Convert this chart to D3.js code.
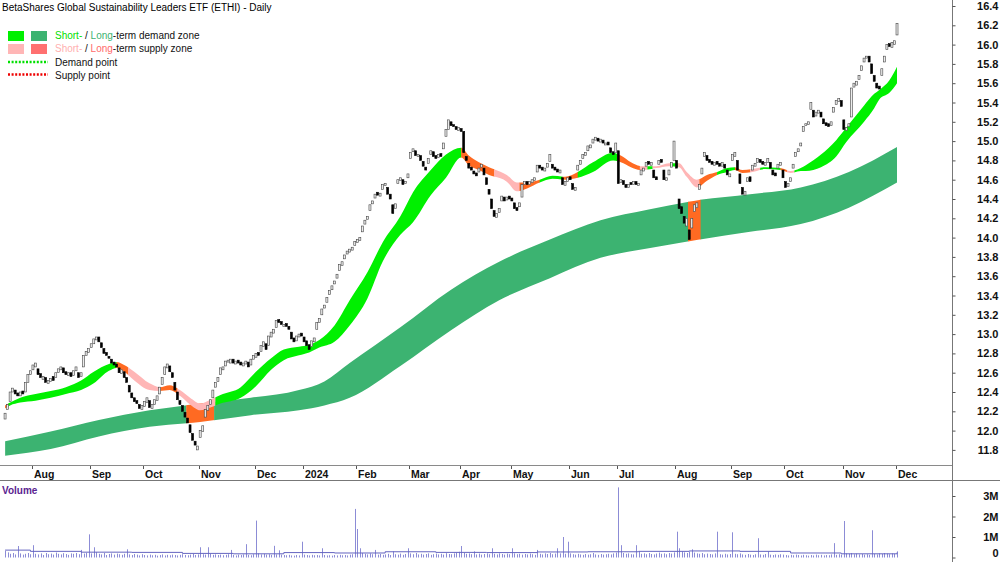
<!DOCTYPE html>
<html>
<head>
<meta charset="utf-8">
<script src="https://cdn.jsdelivr.net/npm/d3@7"></script>
<style>
  body { margin: 0; background: #fff; }
  svg { display: block; font-family: "Liberation Sans", Arial, sans-serif; }
</style>
</head>
<body>
<svg id="chart" width="1000" height="562"></svg>
<script>
// trading calendar (ASX)
const startDate = "2023-07-17";
const endDate = "2024-12-02";
const holidays = ["2023-12-25", "2023-12-26", "2024-01-01", "2024-01-26",
  "2024-03-29", "2024-04-01", "2024-04-25", "2024-06-10"];

// daily closes, month by month
const closes = [
  // Jul 2023
  12.18, 12.27, 12.40, 12.44, 12.38, 12.36, 12.40, 12.38, 12.50, 12.58, 12.62,
  // Aug
  12.68, 12.70, 12.58, 12.55, 12.56, 12.50, 12.52, 12.54, 12.52, 12.60, 12.64, 12.66,
  12.60, 12.58, 12.60, 12.56, 12.62, 12.66, 12.55, 12.60, 12.78, 12.82, 12.85,
  // Sep
  12.90, 12.95, 12.97, 12.92, 12.86, 12.80, 12.78, 12.75, 12.70, 12.68, 12.66, 12.60,
  12.63, 12.55, 12.50, 12.40, 12.34, 12.30, 12.28, 12.23, 12.26,
  // Oct
  12.30, 12.34, 12.24, 12.27, 12.32, 12.36, 12.45, 12.55, 12.66, 12.69, 12.61, 12.55,
  12.42, 12.32, 12.27, 12.20, 12.14, 12.08, 11.98, 11.90, 11.85, 11.84,
  // Nov
  12.00, 12.05, 12.22, 12.26, 12.32, 12.42, 12.50, 12.55, 12.65, 12.66, 12.72, 12.73,
  12.74, 12.70, 12.72, 12.70, 12.68, 12.70, 12.72, 12.66, 12.74, 12.78,
  // Dec
  12.80, 12.78, 12.88, 12.92, 12.84, 12.98, 13.02, 13.05, 13.14, 13.12, 13.10, 13.10,
  13.08, 13.05, 12.95, 12.92, 12.98, 13.00, 12.98,
  // Jan 2024
  12.92, 12.88, 12.84, 12.93, 12.96, 13.12, 13.16, 13.26, 13.30, 13.38, 13.45, 13.50,
  13.55, 13.62, 13.72, 13.75, 13.82, 13.86, 13.88, 13.90, 13.96,
  // Feb
  13.98, 14.00, 14.12, 14.18, 14.22, 14.34, 14.38, 14.45, 14.44, 14.46, 14.55, 14.56,
  14.45, 14.40, 14.25, 14.35, 14.60, 14.62, 14.55, 14.58, 14.66,
  // Mar
  14.88, 14.92, 14.85, 14.86, 14.80, 14.74, 14.70, 14.82, 14.90, 14.84, 14.82, 14.86,
  14.84, 14.98, 15.12, 15.22, 15.16, 15.15, 15.12, 15.14,
  // Apr
  15.10, 14.88, 14.80, 14.72, 14.70, 14.66, 14.64, 14.72, 14.76, 14.65, 14.55, 14.45,
  14.30, 14.22, 14.25, 14.30, 14.43, 14.38, 14.42, 14.40,
  // May
  14.38, 14.30, 14.28, 14.36, 14.55, 14.58, 14.55, 14.58, 14.60, 14.62, 14.75, 14.72,
  14.70, 14.72, 14.77, 14.86, 14.72, 14.70, 14.68, 14.70, 14.55, 14.58, 14.62,
  // Jun
  14.60, 14.50, 14.52, 14.75, 14.80, 14.86, 14.88, 14.95, 14.96, 15.02, 15.04, 15.00,
  15.02, 14.98, 14.98, 14.96, 14.88, 14.86, 14.98,
  // Jul
  14.56, 14.60, 14.55, 14.52, 14.55, 14.55, 14.58, 14.55, 14.56, 14.70, 14.72, 14.78,
  14.76, 14.78, 14.62, 14.60, 14.80, 14.78, 14.60, 14.62, 14.70, 14.78, 15.00,
  // Aug
  14.72, 14.30, 14.25, 14.15, 14.20, 13.98, 14.20, 14.34, 14.36, 14.55, 14.72, 14.88,
  14.80, 14.78, 14.76, 14.78, 14.76, 14.74, 14.78, 14.72, 14.65, 14.66,
  // Sep
  14.86, 14.88, 14.70, 14.56, 14.45, 14.48, 14.62, 14.58, 14.75, 14.77, 14.82, 14.78,
  14.76, 14.78, 14.82, 14.72, 14.65, 14.64, 14.76, 14.78, 14.62,
  // Oct
  14.52, 14.56, 14.62, 14.76, 14.88, 14.92, 14.98, 15.15, 15.18, 15.20, 15.40, 15.25,
  15.30, 15.32, 15.25, 15.18, 15.16, 15.15, 15.20, 15.35, 15.42, 15.44, 15.36,
  // Nov
  15.12, 15.14, 15.18, 15.55, 15.60, 15.62, 15.68, 15.78, 15.86, 15.88, 15.82, 15.70,
  15.62, 15.55, 15.54, 15.75, 15.88, 16.00, 15.98, 16.02, 16.04,
  // Dec
  16.22
];

// daily opens, month by month
const opens = [
  12.12, 12.22, 12.30, 12.40, 12.42, 12.39, 12.36, 12.41, 12.40, 12.50, 12.58,
  12.63, 12.66, 12.64, 12.59, 12.53, 12.55, 12.49, 12.51, 12.56, 12.55, 12.60, 12.63,
  12.65, 12.61, 12.57, 12.60, 12.57, 12.62, 12.60, 12.56, 12.66, 12.78, 12.81,
  12.86, 12.90, 12.94, 12.97, 12.91, 12.85, 12.81, 12.77, 12.74, 12.71, 12.69, 12.65,
  12.59, 12.61, 12.55, 12.47, 12.39, 12.34, 12.31, 12.27, 12.22,
  12.25, 12.29, 12.31, 12.23, 12.27, 12.31, 12.38, 12.48, 12.58, 12.65, 12.67, 12.60,
  12.50, 12.40, 12.31, 12.26, 12.19, 12.13, 12.06, 11.97, 11.89, 11.80,
  11.93, 11.99, 12.14, 12.21, 12.27, 12.34, 12.45, 12.51, 12.58, 12.63, 12.67, 12.71,
  12.70, 12.74, 12.69, 12.73, 12.71, 12.67, 12.69, 12.71, 12.68, 12.74,
  12.76, 12.81, 12.82, 12.87, 12.90, 12.88, 12.97, 13.01, 13.07, 13.15, 13.13, 13.08,
  13.11, 13.08, 13.02, 12.96, 12.93, 12.97, 13.01,
  12.97, 12.93, 12.89, 12.87, 12.92, 13.05, 13.12, 13.20, 13.27, 13.33, 13.41, 13.46,
  13.52, 13.58, 13.66, 13.71, 13.78, 13.83, 13.85, 13.87, 13.92,
  13.95, 13.97, 14.06, 14.14, 14.19, 14.28, 14.35, 14.41, 14.47, 14.43, 14.50, 14.54,
  14.52, 14.45, 14.34, 14.30, 14.56, 14.59, 14.60, 14.56, 14.62,
  14.82, 14.89, 14.90, 14.84, 14.85, 14.79, 14.73, 14.77, 14.86, 14.89, 14.85, 14.83,
  14.87, 14.92, 15.05, 15.12, 15.20, 15.17, 15.15, 15.11,
  15.13, 15.10, 14.84, 14.77, 14.73, 14.69, 14.67, 14.68, 14.73, 14.72, 14.62, 14.50,
  14.40, 14.28, 14.21, 14.26, 14.38, 14.42, 14.39, 14.43,
  14.41, 14.36, 14.31, 14.32, 14.42, 14.55, 14.58, 14.55, 14.57, 14.59, 14.68, 14.75,
  14.73, 14.69, 14.73, 14.79, 14.76, 14.73, 14.71, 14.67, 14.62, 14.54, 14.58,
  14.63, 14.56, 14.49, 14.70, 14.76, 14.82, 14.85, 14.90, 14.93, 14.98, 15.01, 15.03,
  14.99, 15.01, 14.96, 14.99, 14.93, 14.89, 14.88,
  14.90, 14.57, 14.59, 14.55, 14.52, 14.57, 14.55, 14.58, 14.54, 14.65, 14.69, 14.74,
  14.79, 14.75, 14.70, 14.63, 14.76, 14.81, 14.70, 14.59, 14.65, 14.73, 14.80,
  14.80, 14.40, 14.32, 14.22, 14.12, 14.08, 14.10, 14.27, 14.31, 14.50, 14.66, 14.84,
  14.85, 14.81, 14.79, 14.75, 14.79, 14.77, 14.74, 14.76, 14.70, 14.63,
  14.80, 14.84, 14.80, 14.66, 14.52, 14.44, 14.58, 14.63, 14.70, 14.74, 14.78, 14.81,
  14.79, 14.75, 14.78, 14.78, 14.70, 14.67, 14.72, 14.75, 14.70,
  14.58, 14.53, 14.58, 14.72, 14.84, 14.89, 14.95, 15.10, 15.16, 15.17, 15.33, 15.32,
  15.26, 15.29, 15.30, 15.23, 15.19, 15.18, 15.16, 15.30, 15.38, 15.41, 15.42,
  15.22, 15.11, 15.15, 15.25, 15.56, 15.58, 15.64, 15.73, 15.82, 15.86, 15.88, 15.80,
  15.68, 15.60, 15.57, 15.68, 15.82, 15.95, 16.01, 15.97, 16.00,
  16.10
];

// daily volume, millions
const volumes = [
  0.32, 0.25, 0.18, 0.22, 0.15, 0.56, 0.2, 0.14, 0.18, 0.22, 0.16,
  0.6, 0.18, 0.15, 0.2, 0.12, 0.22, 0.16, 0.19, 0.14, 0.24, 0.18, 0.15, 0.21, 0.17, 0.13, 0.2, 0.18, 0.22, 0.16, 0.37, 0.19, 0.23, 1.13,
  0.2, 0.5, 0.26, 0.18, 0.15, 0.22, 0.12, 0.17, 0.2, 0.14, 0.19, 0.16, 0.13, 0.18, 0.4, 0.15, 0.12, 0.17, 0.14, 0.1, 0.16,
  0.12, 0.1, 0.14, 0.11, 0.13, 0.09, 0.12, 0.15, 0.1, 0.13, 0.11, 0.14, 0.12, 0.1, 0.13, 0.16, 0.12, 0.11, 0.14, 0.18, 0.12, 0.15,
  0.5, 0.16, 0.14, 0.5, 0.18, 0.13, 0.15, 0.12, 0.14, 0.11, 0.13, 0.16, 0.37, 0.12, 0.1, 0.14, 0.12, 0.15, 0.65, 0.13, 0.11, 0.16,
  1.8, 0.2, 0.15, 0.18, 0.14, 0.16, 0.13, 0.57, 0.15, 0.35, 0.14, 0.12, 0.11, 0.13, 0.1, 0.09, 0.12, 0.1, 0.77,
  0.14, 0.12, 0.1, 0.13, 0.11, 0.12, 0.1, 0.45, 0.12, 0.1, 0.11, 0.09, 0.12, 0.1, 0.13, 0.11, 0.12, 0.1, 0.14, 0.16, 2.37,
  1.39, 0.45, 0.22, 0.18, 0.15, 0.2, 0.16, 0.37, 0.14, 0.17, 0.13, 0.15, 0.18, 0.12, 0.3, 0.16, 0.14, 0.19, 0.13, 0.17, 0.45,
  0.2, 0.16, 0.22, 0.15, 0.18, 0.14, 0.17, 0.2, 0.13, 0.16, 0.19, 0.15, 0.18, 0.14, 0.21, 0.17, 0.16, 0.2, 0.24, 0.28,
  0.56, 0.22, 0.18, 0.2, 0.16, 0.3, 0.15, 0.19, 0.14, 0.17, 0.2, 0.16, 0.45, 0.18, 0.15, 0.2, 0.17, 0.14, 0.19, 0.16,
  0.45, 0.2, 0.16, 0.18, 0.14, 0.17, 0.15, 0.19, 0.16, 0.13, 0.37, 0.18, 0.15, 0.2, 0.17, 0.22, 0.16, 0.19, 0.45, 0.2, 1.0, 0.18, 0.77,
  0.2, 0.16, 0.14, 0.18, 0.15, 0.13, 0.17, 0.14, 0.16, 0.22, 0.15, 0.13, 0.17, 0.14, 0.16, 0.18, 0.15, 0.2, 0.24,
  3.42, 0.6, 0.22, 0.18, 0.2, 0.16, 0.15, 0.6, 0.3, 0.18, 0.2, 0.16, 0.22, 0.17, 0.15, 0.19, 0.24, 0.18, 0.2, 0.16, 0.22, 0.19, 0.25,
  1.26, 0.45, 0.3, 0.25, 0.22, 0.28, 0.4, 0.24, 0.2, 0.18, 0.22, 0.16, 0.19, 0.17, 0.15, 0.2, 1.26, 0.16, 0.14, 0.18, 0.15, 0.17,
  1.23, 0.18, 0.16, 0.2, 0.15, 0.13, 0.17, 0.14, 0.12, 0.16, 0.94, 0.15, 0.13, 0.17, 0.3, 0.14, 0.12, 0.15, 0.13, 0.16, 0.14,
  0.12, 0.1, 0.13, 0.11, 0.14, 0.12, 0.1, 0.13, 0.11, 0.09, 0.12, 0.1, 0.14, 0.11, 0.13, 0.1, 0.12, 0.11, 0.15, 0.7, 0.13, 0.16, 0.14,
  1.78, 0.2, 0.18, 0.22, 0.16, 0.19, 0.15, 0.17, 0.14, 0.16, 0.13, 1.33, 0.18, 0.15, 0.2, 0.17, 0.22, 0.19, 0.16, 0.2, 0.18,
  0.3
];

// volume average line, sampled (trading day index -> millions)
const volAvgDay = [0, 10, 30, 50, 70, 90, 110, 130, 150, 170, 190, 210, 230, 250, 270, 290, 310, 330, 352];
const volAvg = [0.36, 0.3, 0.26, 0.25, 0.2, 0.18, 0.24, 0.22, 0.28, 0.25, 0.24, 0.27, 0.28, 0.3, 0.32, 0.3, 0.22, 0.18, 0.24];

// short-term zone edges, sampled by trading day index
const shortBandDay = [0, 2, 6, 12, 18, 24, 30, 35, 41, 44, 47, 51, 57, 61, 65, 69, 73, 77, 81, 85,
  93, 99, 105, 110, 116, 120, 124, 130, 136, 143, 149, 156, 161, 168, 174, 180, 183, 187, 191, 198,
  202, 206, 211, 216, 221, 226, 232, 240, 243, 247, 251, 257, 262, 266, 269, 273, 277, 281, 285, 288,
  291, 295, 300, 306, 310, 314, 316, 322, 328, 332, 339, 343, 345, 349, 352];
const shortBandHi = [12.26, 12.29, 12.34, 12.38, 12.41, 12.45, 12.52, 12.61, 12.69, 12.71, 12.68, 12.61, 12.49, 12.45, 12.47, 12.42, 12.34, 12.28, 12.32, 12.37,
  12.45, 12.61, 12.75, 12.84, 12.87, 12.89, 12.94, 13.09, 13.35, 13.64, 13.95, 14.22, 14.47, 14.70, 14.86, 14.93, 14.85, 14.78, 14.73, 14.65,
  14.57, 14.57, 14.60, 14.64, 14.63, 14.68, 14.78, 14.88, 14.85, 14.78, 14.74, 14.74, 14.77, 14.77, 14.68, 14.60, 14.65, 14.68, 14.72, 14.73,
  14.70, 14.71, 14.73, 14.72, 14.69, 14.72, 14.75, 14.86, 15.01, 15.14, 15.37, 15.49, 15.53, 15.63, 15.77];
const shortBandLo = [12.23, 12.26, 12.29, 12.31, 12.34, 12.38, 12.42, 12.49, 12.62, 12.65, 12.61, 12.52, 12.42, 12.41, 12.42, 12.36, 12.27, 12.21, 12.24, 12.28,
  12.34, 12.46, 12.63, 12.73, 12.78, 12.81, 12.86, 12.92, 13.09, 13.37, 13.75, 14.03, 14.16, 14.44, 14.62, 14.83, 14.75, 14.70, 14.65, 14.58,
  14.48, 14.51, 14.57, 14.61, 14.60, 14.62, 14.68, 14.80, 14.78, 14.73, 14.70, 14.72, 14.74, 14.73, 14.63, 14.52, 14.59, 14.65, 14.68, 14.70,
  14.67, 14.68, 14.71, 14.70, 14.67, 14.69, 14.69, 14.73, 14.84, 14.99, 15.20, 15.34, 15.43, 15.50, 15.60];

// long-term zone edges
const longBandDay = [0, 18, 37, 57, 77, 97, 116, 126, 136, 156, 176, 195, 215, 235, 254, 274, 294, 314, 333, 352];
const longBandHi = [11.89, 11.99, 12.11, 12.21, 12.28, 12.34, 12.42, 12.51, 12.70, 13.07, 13.46, 13.75, 13.98, 14.18, 14.29, 14.39, 14.45, 14.52, 14.68, 14.94];
const longBandLo = [11.74, 11.81, 11.94, 12.04, 12.09, 12.16, 12.21, 12.26, 12.34, 12.67, 13.04, 13.35, 13.58, 13.79, 13.89, 13.98, 14.06, 14.14, 14.31, 14.57];

// zone colouring: start day of each run and its state
const shortZoneFrom = [0, 1, 44, 48.5, 61, 68, 83, 180, 193, 203, 211, 220, 226, 241.5, 250.5, 253.5,
  255.5, 262.5, 265.5, 274, 281, 288, 294, 298, 306, 308.5, 311.5];
const shortZoneKind = ["o", "g", "o", "p", "o", "p", "g", "o", "p", "o", "g", "o", "g", "o", "p", "g",
  "p", "g", "p", "o", "g", "o", "p", "g", "o", "p", "g"];
const longZoneFrom = [0, 71.5, 82.5, 269.5, 274.5];
const longZoneKind = ["L", "o", "L", "o", "L"];

const priceTicks = [11.8, 12.0, 12.2, 12.4, 12.6, 12.8, 13.0, 13.2, 13.4, 13.6, 13.8, 14.0, 14.2,
  14.4, 14.6, 14.8, 15.0, 15.2, 15.4, 15.6, 15.8, 16.0, 16.2, 16.4];
const volTicks = [0, 1, 2, 3];
const volTickLabels = ["0", "1M", "2M", "3M"];
const monthNames = ["Jan", "Feb", "Mar", "Apr", "May", "Jun", "Jul", "Aug", "Sep", "Oct", "Nov", "Dec"];

const zoneColor = { g: "#00f000", p: "#ffb6b6", o: "#ff6a22", L: "#3cb371" };

// build the list of trading days
const parseDay = d3.timeParse("%Y-%m-%d");
const fmtDay = d3.timeFormat("%Y-%m-%d");
const days = d3.timeDay.range(parseDay(startDate), d3.timeDay.offset(parseDay(endDate), 1))
  .filter(d => d.getDay() % 6 !== 0 && !holidays.includes(fmtDay(d)));
const n = Math.min(days.length, closes.length, opens.length);
const lastDay = n - 1;

const svg = d3.select("#chart");
const axisX = 952;
const priceBottom = 465;

const x = d3.scaleLinear().domain([-2, 373.7]).range([0, axisX]);
const y = d3.scaleLinear().domain([11.8, 16.4]).range([449.9, 6]);
const yv = d3.scaleLinear().domain([0, 3]).range([557.5, 496]);

const defs = svg.append("defs");
defs.append("clipPath").attr("id", "priceClip")
  .append("rect").attr("x", 0).attr("y", 0).attr("width", axisX).attr("height", priceBottom);

const pricePanel = svg.append("g").attr("clip-path", "url(#priceClip)");

// zones drawn as areas, cut into coloured runs with clip rects
function drawBand(dayArr, hiArr, loArr, fromArr, kindArr, name) {
  const pts = dayArr.map((d, i) => ({ d: d, hi: hiArr[i], lo: loArr[i] }));
  const area = d3.area()
    .x(p => x(p.d))
    .y0(p => y(p.lo))
    .y1(p => y(p.hi))
    .curve(d3.curveMonotoneX);
  fromArr.forEach((f, k) => {
    const to = k < fromArr.length - 1 ? fromArr[k + 1] : lastDay + 0.6;
    const id = name + "Zone" + k;
    defs.append("clipPath").attr("id", id)
      .append("rect")
      .attr("x", x(f)).attr("y", 0)
      .attr("width", Math.max(0, x(to) - x(f)) + 0.3)
      .attr("height", priceBottom);
    pricePanel.append("path")
      .datum(pts)
      .attr("d", area)
      .attr("fill", zoneColor[kindArr[k]])
      .attr("clip-path", "url(#" + id + ")");
  });
}

drawBand(longBandDay, longBandHi, longBandLo, longZoneFrom, longZoneKind, "long");
drawBand(shortBandDay, shortBandHi, shortBandLo, shortZoneFrom, shortZoneKind, "short");

// candles
const candles = d3.range(n).map(i => ({ i: i, open: opens[i], close: closes[i] }));
const bw = 2;
pricePanel.append("g").selectAll("rect")
  .data(candles)
  .enter()
  .append("rect")
  .attr("x", d => x(d.i) - bw / 2)
  .attr("y", d => y(Math.max(d.open, d.close)))
  .attr("width", bw)
  .attr("height", d => Math.max(1.5, Math.abs(y(d.open) - y(d.close))))
  .attr("fill", d => d.close >= d.open ? "#ececec" : "#000")
  .attr("stroke", d => d.close >= d.open ? "#444" : "#000")
  .attr("stroke-width", 0.6);

// frame lines
svg.append("line").attr("x1", 0).attr("x2", axisX).attr("y1", priceBottom + 0.5).attr("y2", priceBottom + 0.5)
  .attr("stroke", "#8a8a8a").attr("stroke-width", 1);
svg.append("line").attr("x1", 0).attr("x2", 1000).attr("y1", 480.5).attr("y2", 480.5)
  .attr("stroke", "#777").attr("stroke-width", 1);
svg.append("line").attr("x1", axisX + 0.5).attr("x2", axisX + 0.5).attr("y1", 0).attr("y2", 562)
  .attr("stroke", "#777").attr("stroke-width", 1);

// right price axis
const yAxis = d3.axisRight(y).tickValues(priceTicks).tickSize(3).tickFormat(d3.format(".1f"));
const gy = svg.append("g").attr("transform", `translate(${axisX + 0.5},0)`).call(yAxis);
gy.select(".domain").remove();
gy.selectAll(".tick line").attr("stroke", "#555");
gy.selectAll(".tick text")
  .attr("x", 46).attr("text-anchor", "end")
  .style("font-size", "11px").style("font-weight", "bold")
  .style("font-family", "'Liberation Sans', Arial, sans-serif").attr("fill", "#111");

// month axis
const monthIdx = d3.range(1, n).filter(i => days[i].getMonth() !== days[i - 1].getMonth());
const gx = svg.append("g");
monthIdx.forEach(i => {
  const tx = Math.round(x(i - 0.5)) + 0.5;
  gx.append("line").attr("x1", tx).attr("x2", tx).attr("y1", priceBottom + 1).attr("y2", priceBottom + 4)
    .attr("stroke", "#555");
  const m = days[i].getMonth();
  gx.append("text")
    .attr("x", tx + 1.5).attr("y", 477.5)
    .style("font-size", "10.5px").style("font-weight", "bold").attr("fill", "#111")
    .text(m === 0 ? String(days[i].getFullYear()) : monthNames[m]);
});

// volume panel
svg.append("text").attr("x", 2).attr("y", 493.5)
  .style("font-size", "10px").style("font-weight", "bold").attr("fill", "#5a2390")
  .text("Volume");

svg.append("g").selectAll("line")
  .data(d3.range(n))
  .enter()
  .append("line")
  .attr("x1", i => Math.round(x(i)) + 0.5)
  .attr("x2", i => Math.round(x(i)) + 0.5)
  .attr("y1", yv(0))
  .attr("y2", i => yv(volumes[i]))
  .attr("stroke", "#8c8cd6")
  .attr("stroke-width", 1);

const volLine = d3.line().x(d => x(d)).y((d, k) => yv(volAvg[k])).curve(d3.curveStepAfter);
svg.append("path").datum(volAvgDay).attr("d", volLine)
  .attr("fill", "none").attr("stroke", "#6464c0").attr("stroke-width", 1);

const vAxis = d3.axisRight(yv).tickValues(volTicks).tickSize(3).tickFormat((d, k) => volTickLabels[k]);
const gv = svg.append("g").attr("transform", `translate(${axisX + 0.5},0)`).call(vAxis);
gv.select(".domain").remove();
gv.selectAll(".tick line").attr("stroke", "#555");
gv.selectAll(".tick text")
  .attr("x", 46).attr("text-anchor", "end")
  .attr("dy", d => d === 0 ? "-0.05em" : "0.32em")
  .style("font-size", "11px").style("font-weight", "bold")
  .style("font-family", "'Liberation Sans', Arial, sans-serif").attr("fill", "#111");

// title
svg.append("text").attr("x", 2).attr("y", 11)
  .style("font-size", "10px").attr("fill", "#000")
  .text("BetaShares Global Sustainability Leaders ETF (ETHI) - Daily");

// legend
const legend = svg.append("g").style("font-size", "10px");
function legendRow(yy, c1, c2, parts) {
  legend.append("rect").attr("x", 8).attr("y", yy - 8).attr("width", 16).attr("height", 10).attr("fill", c1);
  legend.append("rect").attr("x", 31).attr("y", yy - 8).attr("width", 16).attr("height", 10).attr("fill", c2);
  const t = legend.append("text").attr("x", 55).attr("y", yy);
  parts.forEach(p => t.append("tspan").attr("fill", p[1]).text(p[0]));
}
legendRow(39, "#00f000", "#3cb371", [["Short-", "#00e000"], [" / ", "#111"], ["Long", "#3cb371"], ["-term demand zone", "#111"]]);
legendRow(52, "#ffb6b6", "#ff7070", [["Short-", "#ffb0b0"], [" / ", "#111"], ["Long", "#ff6a6a"], ["-term supply zone", "#111"]]);
function legendDots(yy, color, label) {
  legend.append("line").attr("x1", 8).attr("x2", 48).attr("y1", yy).attr("y2", yy)
    .attr("stroke", color).attr("stroke-width", 2.5).attr("stroke-dasharray", "2,1.6");
  legend.append("text").attr("x", 55).attr("y", yy + 4).attr("fill", "#111").text(label);
}
legendDots(62, "#00e000", "Demand point");
legendDots(74.5, "#ee0000", "Supply point");
</script>
</body>
</html>
